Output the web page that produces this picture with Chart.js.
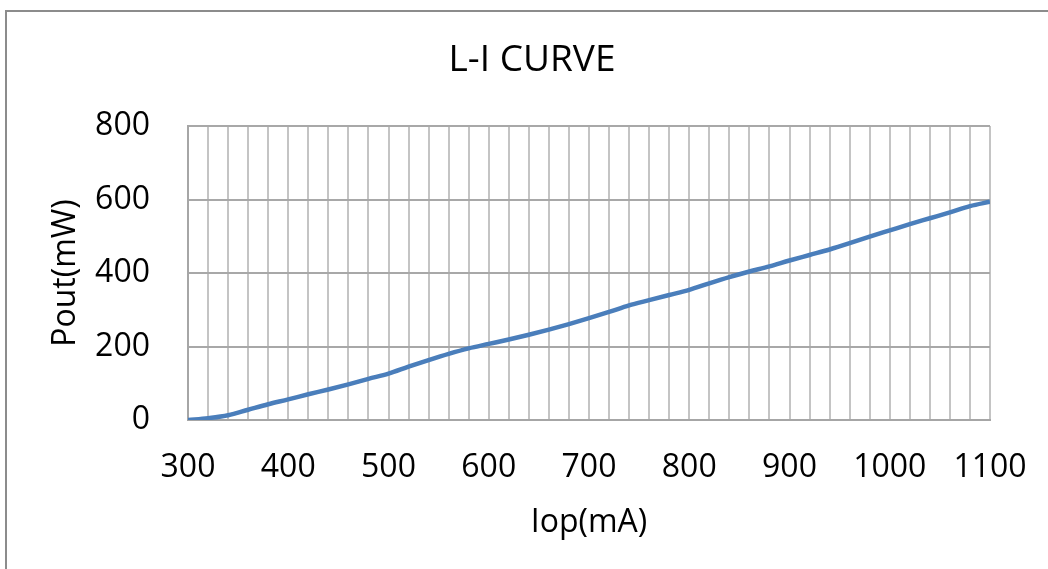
<!DOCTYPE html>
<html>
<head>
<meta charset="utf-8">
<script src="https://cdn.jsdelivr.net/npm/chart.js@4"></script>
<style>
    html, body { margin: 0; padding: 0; background: #fff; overflow: hidden; }
    #frame {
        position: absolute; left: 5px; top: 10px;
        width: 1100px; height: 620px;
        border: 2px solid #8c8c8c; box-sizing: border-box;
    }
    #myChart { position: absolute; left: 7px; top: 12px; }
</style>
</head>
<body>
<div id="frame"></div>
<canvas id="myChart" width="1050" height="557"></canvas>
<script>
// chart values
var TITLE = 'L-I CURVE';
var X_LABEL = 'Iop(mA)';
var Y_LABEL = 'Pout(mW)';

var IOP_MA = [
    300, 320, 340, 360, 380, 400, 420, 440, 460, 480,
    500, 520, 540, 560, 580, 600, 620, 640, 660, 680,
    700, 720, 740, 760, 780, 800, 820, 840, 860, 880,
    900, 920, 940, 960, 980, 1000, 1020, 1040, 1060, 1080,
    1100
];
var POUT_MW = [
    0, 5, 13, 28, 43, 56, 70, 83, 97, 112,
    126, 145, 163, 180, 195, 207, 219, 232, 246, 261,
    277, 294, 312, 326, 340, 354, 372, 389, 404, 418,
    434, 449, 464, 481, 499, 516, 533, 549, 565, 582,
    594
];
var X_TICKS = [300, 400, 500, 600, 700, 800, 900, 1000, 1100];
var Y_TICKS = [0, 200, 400, 600, 800];

var FONT = "'Open Sans', 'DejaVu Sans', sans-serif";

var points = [];
for (var i = 0; i < IOP_MA.length; i++) {
    points.push({x: IOP_MA[i], y: POUT_MW[i]});
}

// title drawn centred on the whole frame, not on the padded box
var titlePlugin = {
    id: 'frameTitle',
    afterDraw: function (chart) {
        var c = chart.ctx;
        c.save();
        c.font = '37px ' + FONT;
        c.fillStyle = '#000';
        c.textAlign = 'center';
        c.textBaseline = 'middle';
        c.fillText(TITLE, chart.width / 2, 48);
        c.restore();
    }
};

const ctx = document.getElementById('myChart').getContext('2d');
const myChart = new Chart(ctx, {
    type: 'line',
    data: {
        datasets: [{
            label: Y_LABEL,
            data: points,
            borderColor: '#4a7ebb',
            borderWidth: 4.5,
            pointRadius: 0,
            fill: false,
            cubicInterpolationMode: 'monotone'
        }]
    },
    options: {
        responsive: false,
        animation: false,
        layout: {
            padding: {top: 114, left: 14, right: 67, bottom: 0}
        },
        plugins: {
            legend: {display: false},
            tooltip: {enabled: false}
        },
        scales: {
            x: {
                type: 'linear',
                min: 300,
                max: 1100,
                afterFit: function (scale) { scale.height = 149; },
                afterBuildTicks: function (scale) {
                    // gridline every 20 mA, labels only on X_TICKS
                    scale.ticks = IOP_MA.map(function (v) { return {value: v}; });
                },
                ticks: {
                    autoSkip: false,
                    maxRotation: 0,
                    padding: 29,
                    color: '#000',
                    font: {family: FONT, size: 32},
                    callback: function (v) {
                        return X_TICKS.indexOf(v) >= 0 ? String(v) : '';
                    }
                },
                grid: {color: '#c4c4c4', lineWidth: 2, drawTicks: false},
                border: {color: '#a6a6a6', width: 2},
                title: {
                    display: true,
                    text: X_LABEL,
                    color: '#000',
                    font: {family: FONT, size: 32},
                    padding: {top: 0, bottom: 27}
                }
            },
            y: {
                min: 0,
                max: 800,
                afterFit: function (scale) { scale.width = 167; },
                afterBuildTicks: function (scale) {
                    scale.ticks = Y_TICKS.map(function (v) { return {value: v}; });
                },
                ticks: {
                    padding: 38,
                    color: '#000',
                    font: {family: FONT, size: 32}
                },
                grid: {color: '#a8a8a8', lineWidth: 2, drawTicks: false},
                border: {color: '#a6a6a6', width: 2},
                title: {
                    display: true,
                    text: Y_LABEL,
                    color: '#000',
                    font: {family: FONT, size: 32},
                    padding: {top: 26, bottom: 0}
                }
            }
        }
    },
    plugins: [titlePlugin]
});
</script>
</body>
</html>
